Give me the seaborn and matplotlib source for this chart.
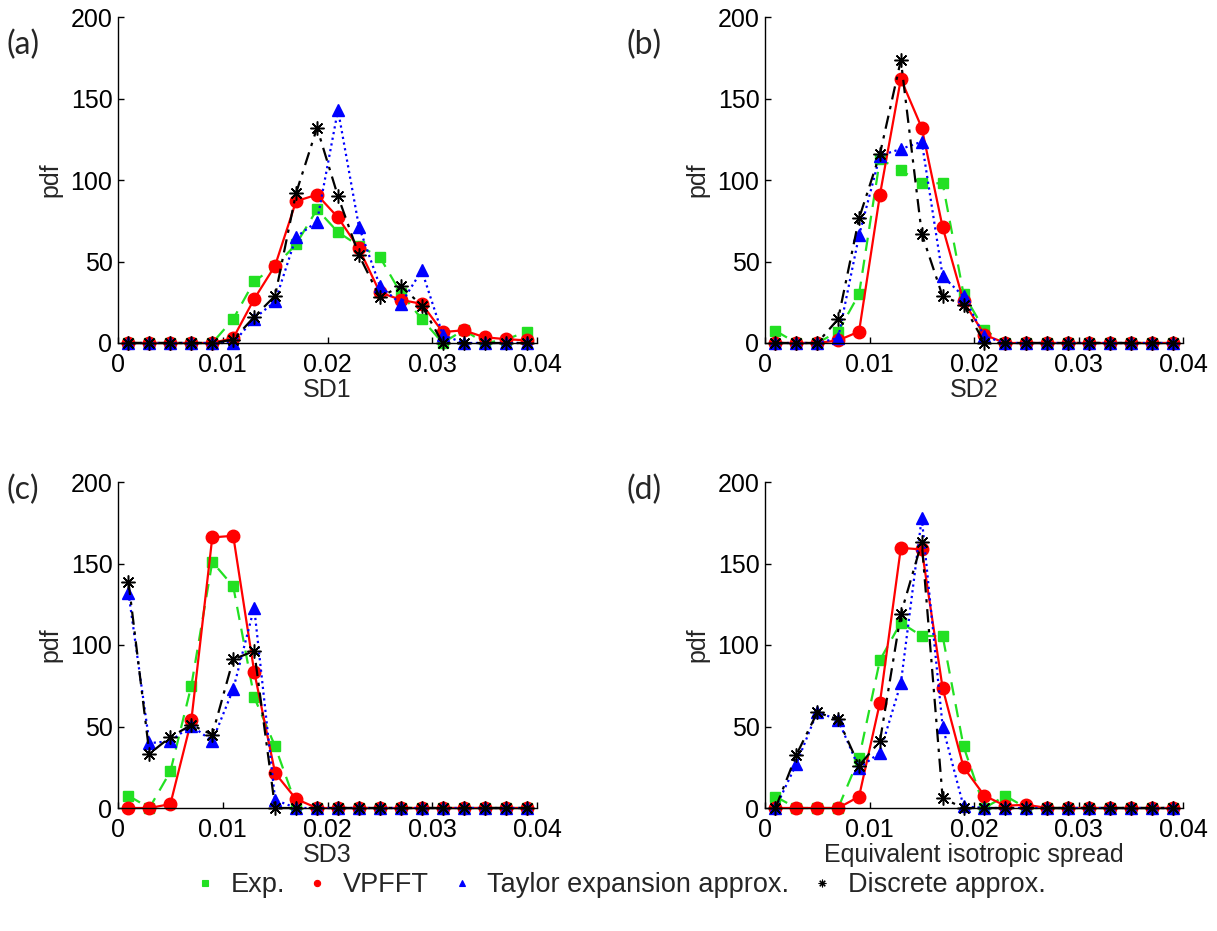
import numpy as np
import pandas as pd
import matplotlib
matplotlib.use("Agg")
import matplotlib.pyplot as plt
from matplotlib.lines import Line2D
import seaborn as sns

sns.set_style("white")
plt.rcParams['font.family'] = ['Liberation Sans', 'DejaVu Sans']

x_vals = [0.001, 0.003, 0.005, 0.007, 0.009, 0.011, 0.013, 0.015, 0.017, 0.019,
          0.021, 0.023, 0.025, 0.027, 0.029, 0.031, 0.033, 0.035, 0.037, 0.039]

series_names = ["Exp.", "VPFFT", "Taylor expansion approx.", "Discrete approx."]
panel_labels = ["(a)", "(b)", "(c)", "(d)"]
x_labels = ["SD1", "SD2", "SD3", "Equivalent isotropic spread"]

# Panel (a) SD1
a_exp = [0, 0, 0, 0, 0, 14.7, 37.8, 47, 60.6, 82, 68, 59.6, 52.7, 30.6, 14.7, 0, 8, 0, 2, 7]
a_vpfft = [0, 0, 0, 0, 0, 3, 27, 47.5, 87, 91, 77, 58, 31, 26.5, 24, 6.7, 7.8, 3.5, 2.4, 1.6]
a_taylor = [0, 0, 0, 0, 0, 0, 15, 25.5, 65, 74.5, 143, 71.4, 35, 24, 44.5, 5, 0, 0, 0, 0]
a_disc = [0, 0, 0, 0, 0, 2, 16, 29, 92, 132, 90, 54, 28, 35, 23, 0, 0, 0, 0, 0]

# Panel (b) SD2
b_exp = [7.5, 0, 0, 7, 30, 112.7, 106, 98, 98, 30, 8, 0, 0, 0, 0, 0, 0, 0, 0, 0]
b_vpfft = [0, 0, 0, 1.6, 7, 91, 162, 132, 71, 25.5, 5, 0, 0, 0, 0, 0, 0, 0, 0, 0]
b_taylor = [0, 0, 0, 3, 66, 115, 119, 123.5, 41, 28.6, 4, 0, 0, 0, 0, 0, 0, 0, 0, 0]
b_disc = [0, 0, 0, 14.7, 76.5, 116, 173.5, 67, 28.6, 23.5, 0, 0, 0, 0, 0, 0, 0, 0, 0, 0]

# Panel (c) SD3
c_exp = [7.5, 0, 22.4, 75, 151, 136, 68, 37.8, 2, 0, 0, 0, 0, 0, 0, 0, 0, 0, 0, 0]
c_vpfft = [0, 0, 2.4, 53.7, 166, 167, 83.7, 21.4, 5.5, 0, 0, 0, 0, 0, 0, 0, 0, 0, 0, 0]
c_taylor = [132, 39.8, 41, 50.6, 41, 72.9, 122.9, 5, 0, 0, 0, 0, 0, 0, 0, 0, 0, 0, 0, 0]
c_disc = [138.8, 33.3, 43.5, 51, 45, 91.2, 96.3, 0, 0, 0, 0, 0, 0, 0, 0, 0, 0, 0, 0, 0]

# Panel (d) Equivalent isotropic spread
d_exp = [7, 0, 0, 0, 30.6, 90.8, 113.7, 105.5, 105.5, 37.8, 0, 7.5, 0, 0, 0, 0, 0, 0, 0, 0]
d_vpfft = [0, 0, 0, 0, 7, 64.7, 159.6, 158.6, 73.5, 25, 7.5, 1.4, 2, 0, 0, 0, 0, 0, 0, 0]
d_taylor = [0, 27, 59, 54, 24.5, 34, 76.5, 178, 50, 1, 0, 0, 0, 0, 0, 0, 0, 0, 0, 0]
d_disc = [0, 32.6, 58.6, 54.5, 26, 41, 119, 163, 6, 0, 0, 0, 0, 0, 0, 0, 0, 0, 0, 0]

panels = [
    [a_exp, a_vpfft, a_taylor, a_disc],
    [b_exp, b_vpfft, b_taylor, b_disc],
    [c_exp, c_vpfft, c_taylor, c_disc],
    [d_exp, d_vpfft, d_taylor, d_disc],
]

styles = [
    dict(color="#22e022", marker="s", linestyle=(0, (6, 4)), markersize=7.5, mew=1.0),
    dict(color="#ff0000", marker="o", linestyle="-", markersize=9, mew=1.0),
    dict(color="#0000ff", marker="^", linestyle=(0, (1, 1.6)), markersize=9, mew=1.0),
    dict(color="#000000", marker=(8, 2, 0), linestyle=(0, (6, 3, 1.5, 3)), markersize=10, mew=1.1),
]

W, H = 1217, 931
fig = plt.figure(figsize=(W / 100, H / 100), dpi=100)

# axes boxes in pixels: (left, top, right, bottom)
boxes = [(118, 17, 537, 343), (765, 17, 1183, 343),
         (118, 482, 537, 808), (765, 482, 1183, 808)]
label_pos = [(7, 45), (627, 45), (7, 490), (627, 490)]

for i, (box, vals) in enumerate(zip(boxes, panels)):
    l, t, r, b = box
    ax = fig.add_axes([l / W, 1 - b / H, (r - l) / W, (b - t) / H])
    for name, v, st in zip(series_names, vals, styles):
        df = pd.DataFrame({"x": x_vals, "y": v})
        sns.lineplot(data=df, x="x", y="y", ax=ax, color=st["color"],
                     marker=st["marker"], linestyle=st["linestyle"],
                     markersize=st["markersize"], markeredgecolor=st["color"],
                     markerfacecolor=st["color"], markeredgewidth=st["mew"],
                     linewidth=1.6, label=name, legend=False, clip_on=False,
                     estimator=None)
    ax.set_xlim(0, 0.04)
    ax.set_ylim(0, 200)
    ax.set_xticks([0, 0.01, 0.02, 0.03, 0.04])
    ax.set_xticklabels(["0", "0.01", "0.02", "0.03", "0.04"])
    ax.set_yticks([0, 50, 100, 150, 200])
    ax.tick_params(direction="in", length=4, width=1, labelsize=18,
                   left=True, bottom=True, colors="black")
    ax.tick_params(axis="x", pad=7)
    ax.tick_params(axis="y", pad=4)
    sns.despine(ax=ax)
    for s in ["left", "bottom"]:
        ax.spines[s].set_color("black")
        ax.spines[s].set_linewidth(1.0)
    ax.set_xlabel(x_labels[i], fontsize=18, labelpad=1)
    ax.set_ylabel("pdf", fontsize=18, labelpad=6)
    fig.text(label_pos[i][0] / W, 1 - label_pos[i][1] / H, panel_labels[i],
             fontsize=23, family=["Lato", "DejaVu Sans"], va="center", ha="left")

handles = [Line2D([], [], color=st["color"], marker=st["marker"], linestyle="none",
                  markersize=4.5 if i < 3 else 5.5, markeredgecolor=st["color"],
                  markeredgewidth=0.8)
           for i, st in enumerate(styles)]
fig.legend(handles, series_names, loc="center", bbox_to_anchor=(0.508, 1 - 885 / H),
           ncol=4, frameon=False, fontsize=19.5, handlelength=1.0, handletextpad=0.45,
           columnspacing=0.7, borderaxespad=0)

fig.savefig("out.png", dpi=100, facecolor="white")
